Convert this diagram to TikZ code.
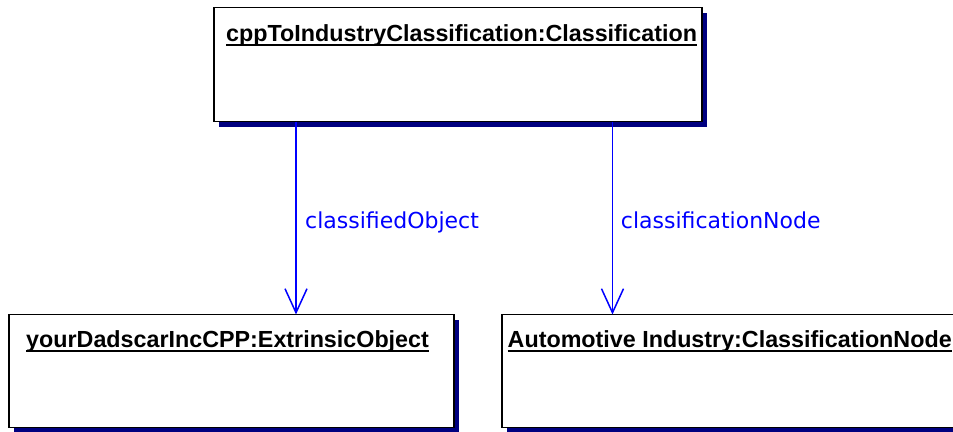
\documentclass[tikz,border=0pt]{standalone}
\usepackage{fontspec}
\setmainfont{Liberation Sans}
\newfontfamily\labelfont{DejaVu Sans}
\usetikzlibrary{arrows.meta,shadows}
\definecolor{shadownavy}{RGB}{0,0,128}
\definecolor{linkblue}{RGB}{0,0,255}
\tikzset{
  objbox/.style={draw=black, line width=1.8pt, fill=white, inner sep=0pt, outer sep=0pt,
    drop shadow={shadow xshift=5pt, shadow yshift=-5.5pt, fill=shadownavy, opacity=1}},
  objtitle/.style={anchor=base west, inner sep=0pt, font=\bfseries\fontsize{23.3}{26}\selectfont},
  uline/.style={line width=1.7pt, black},
  assoc/.style={draw=linkblue, line width=1.6pt, -{Straight Barb[length=24pt, width=22pt, line width=1.5pt]}},
  assoclabel/.style={anchor=base west, inner sep=0pt, text=linkblue, font=\labelfont\fontsize{22}{24}\selectfont}
}
\begin{document}
\begin{tikzpicture}[x=1pt,y=-1pt]
\useasboundingbox (0,0) rectangle (953,431);
\fill[white] (0,0) rectangle (953,431);
% boxes
\node[objbox, minimum width=488pt, minimum height=114pt] (cls) at (458,64.5) {};
\node[objbox, minimum width=445pt, minimum height=113pt] (ext) at (231.8,371) {};
\node[objbox, minimum width=470pt, minimum height=113pt] (cnode) at (737.3,371) {};
% titles
\node[objtitle] (clst) at (226,41) {cppToIndustryClassification:Classification\ };
\draw[uline] ([yshift=-4pt]clst.base west) -- ([yshift=-4pt]clst.base east);
\node[objtitle] (extt) at (26,347.5) {yourDadscarIncCPP:ExtrinsicObject\ };
\draw[uline] ([yshift=-3.5pt]extt.base west) -- ([yshift=-3.5pt]extt.base east);
\node[objtitle] (cnodet) at (507.5,347.5) {Automotive Industry:ClassificationNode\ };
\draw[uline] ([yshift=-3.5pt]cnodet.base west) -- ([yshift=-3.5pt]cnodet.base east);
% connector columns
\coordinate (colA) at (296,0);
\coordinate (colB) at (612.5,0);
% connectors
\draw[assoc] (cls.south -| colA) -- (ext.north -| colA);
\draw[assoc] (cls.south -| colB) -- (cnode.north -| colB);
% labels
\node[assoclabel] (l1) at (305,228) {classifiedObject};
\node[assoclabel] (l2) at (620.7,228) {classificationNode};
\end{tikzpicture}
\end{document}
